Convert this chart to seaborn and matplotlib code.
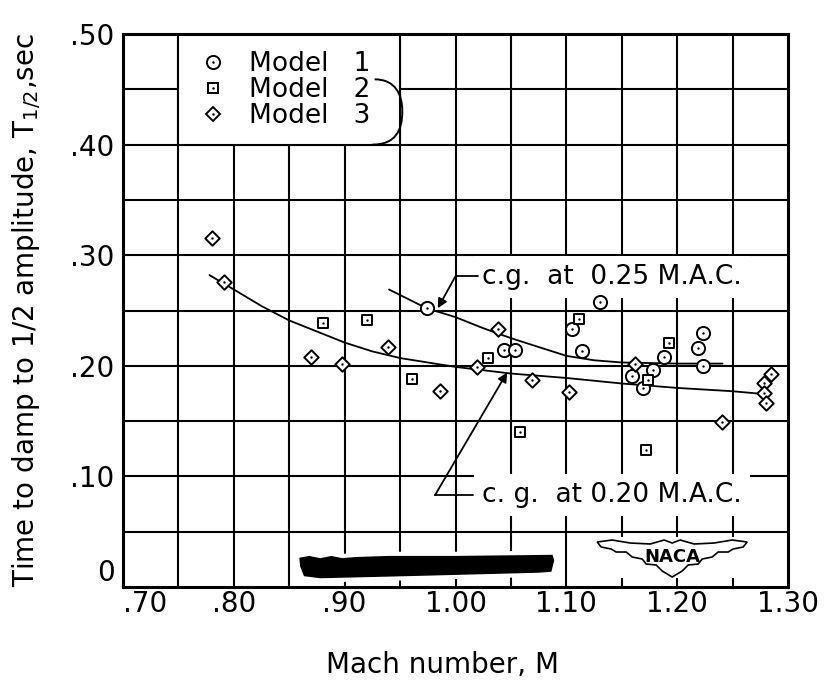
import numpy as np
import pandas as pd
import matplotlib
matplotlib.use("Agg")
import matplotlib.pyplot as plt
import seaborn as sns
from matplotlib.path import Path
from matplotlib.patches import PathPatch, Rectangle, Polygon
from matplotlib.lines import Line2D
from matplotlib.legend_handler import HandlerTuple
from matplotlib.transforms import Affine2D, ScaledTranslation

# ---- measured damping times ----
# Model 1 (circles)
m1_mach = [0.974, 1.044, 1.054, 1.105, 1.114, 1.130, 1.159, 1.169, 1.178, 1.188, 1.219, 1.223, 1.223]
m1_t = [0.252, 0.214, 0.214, 0.233, 0.213, 0.258, 0.191, 0.180, 0.196, 0.208, 0.216, 0.230, 0.200]
# Model 2 (squares)
m2_mach = [0.880, 0.920, 0.961, 1.029, 1.058, 1.111, 1.172, 1.174, 1.193]
m2_t = [0.239, 0.241, 0.188, 0.207, 0.140, 0.242, 0.124, 0.187, 0.221]
# Model 3 (diamonds)
m3_mach = [0.780, 0.791, 0.870, 0.898, 0.939, 0.986, 1.019, 1.038, 1.069, 1.102,
           1.162, 1.240, 1.278, 1.278, 1.280, 1.285]
m3_t = [0.316, 0.276, 0.208, 0.202, 0.217, 0.177, 0.199, 0.233, 0.187, 0.176,
        0.202, 0.149, 0.184, 0.175, 0.166, 0.193]

# ---- faired curves ----
cg25_mach = [0.940, 0.960, 0.974, 1.000, 1.025, 1.050, 1.075, 1.100, 1.125, 1.150, 1.200, 1.241]
cg25_t = [0.269, 0.259, 0.252, 0.244, 0.234, 0.225, 0.217, 0.209, 0.205, 0.203, 0.202, 0.202]
cg20_mach = [0.778, 0.800, 0.825, 0.850, 0.875, 0.900, 0.925, 0.950, 0.975, 1.000,
             1.025, 1.050, 1.100, 1.150, 1.200, 1.250, 1.272]
cg20_t = [0.282, 0.269, 0.254, 0.241, 0.231, 0.221, 0.213, 0.207, 0.203, 0.199,
          0.196, 0.193, 0.189, 0.184, 0.180, 0.177, 0.175]

# ---- axis labelling ----
x_ticks = [0.70, 0.80, 0.90, 1.00, 1.10, 1.20, 1.30]
x_labels = [".70", ".80", ".90", "1.00", "1.10", "1.20", "1.30"]
y_ticks = [0.0, 0.10, 0.20, 0.30, 0.40, 0.50]
y_labels = ["0", ".10", ".20", ".30", ".40", ".50"]
model_labels = ["Model   1", "Model   2", "Model   3"]

sns.set_theme(style="white")
plt.rcParams["font.family"] = ["DejaVu Sans"]
plt.rcParams["mathtext.default"] = "regular"
plt.rcParams["text.color"] = "black"

INK = "black"
FS = 19

fig = plt.figure(figsize=(8.26, 6.90), dpi=100)
fig.patch.set_facecolor("white")
ax = fig.add_axes([123 / 826, 1 - 587 / 690, 665 / 826, 553 / 690])
ax.set_facecolor("white")
ax.set_xlim(0.70, 1.30)
ax.set_ylim(0.0, 0.50)

# grid every 0.05 in both directions
grid_x = np.round(np.arange(0.70, 1.3001, 0.05), 2)
grid_y = np.round(np.arange(0.0, 0.5001, 0.05), 2)
for gx in grid_x[1:-1]:
    ax.axvline(gx, color=INK, lw=1.5, zorder=1)
for gy in grid_y[1:-1]:
    ax.axhline(gy, color=INK, lw=1.5, zorder=1)

for sp in ax.spines.values():
    sp.set_color(INK)
    sp.set_linewidth(2.2)
    sp.set_zorder(6)

ax.set_xticks(x_ticks)
ax.set_xticklabels(x_labels, fontsize=20)
ax.set_yticks(y_ticks)
ax.set_yticklabels(y_labels, fontsize=20)
ax.tick_params(axis="both", length=0, colors=INK, labelcolor=INK)
ax.tick_params(axis="x", pad=2)
ax.tick_params(axis="y", pad=6)
# corner labels sit apart from each other
ax.get_xticklabels()[0].set_horizontalalignment("left")
ax.get_yticklabels()[0].set_verticalalignment("bottom")

# ---- faired curves ----
sns.lineplot(x=cg25_mach, y=cg25_t, ax=ax, color=INK, lw=1.3, sort=False, zorder=3)
sns.lineplot(x=cg20_mach, y=cg20_t, ax=ax, color=INK, lw=1.3, sort=False, zorder=3)

# ---- data points: open symbols with a centre dot ----
series = [
    (m1_mach, m1_t, "o", 90),
    (m2_mach, m2_t, "s", 60),
    (m3_mach, m3_t, "D", 54),
]
for xs, ys, mk, size in series:
    df = pd.DataFrame({"mach": xs, "t": ys})
    sns.scatterplot(data=df, x="mach", y="t", ax=ax, marker=mk, s=size,
                    color="white", edgecolor=INK, linewidth=1.4, zorder=7)
    sns.scatterplot(data=df, x="mach", y="t", ax=ax, marker="o", s=3,
                    color=INK, linewidth=0, zorder=8)

ax.set_xlabel("Mach number, M", fontsize=20, color=INK)
ax.xaxis.set_label_coords(0.48, -0.115)
ax.set_ylabel("Time to damp to 1/2 amplitude, T$_{1/2}$,sec", fontsize=20, color=INK)
ax.yaxis.set_label_coords(-0.12, 0.50)

# ---- legend block ----
ax.add_patch(Rectangle((0.75, 0.40), 0.20, 0.10, facecolor="white",
                       edgecolor=INK, lw=1.5, zorder=2))
handles = []
for mk, size in [("o", 90), ("s", 60), ("D", 54)]:
    outer = Line2D([], [], ls="none", marker=mk, markersize=np.sqrt(size),
                   markerfacecolor="white", markeredgecolor=INK, markeredgewidth=1.4)
    dot = Line2D([], [], ls="none", marker="o", markersize=1.8,
                 markerfacecolor=INK, markeredgewidth=0)
    handles.append((outer, dot))
leg = ax.legend(handles, model_labels, handler_map={tuple: HandlerTuple(ndivide=1)},
                loc="upper left", bbox_to_anchor=(0.085, 1.005), frameon=False,
                fontsize=FS, labelspacing=0.0, handlelength=1.0, handletextpad=0.9,
                borderpad=0.25, labelcolor=INK)
leg.set_zorder(9)

# bracket tying models 2 and 3 together
brace = Path([(0.927, 0.459), (0.946, 0.459), (0.952, 0.445), (0.952, 0.430),
              (0.952, 0.413), (0.946, 0.400), (0.925, 0.400)],
             [Path.MOVETO, Path.CURVE4, Path.CURVE4, Path.CURVE4,
              Path.CURVE4, Path.CURVE4, Path.CURVE4])
ax.add_patch(PathPatch(brace, facecolor="none", edgecolor=INK, lw=1.4, zorder=9))

# ---- curve call-outs ----
box = dict(boxstyle="square,pad=0.3", facecolor="white", edgecolor="none")
ax.text(1.024, 0.280, "c.g.  at  0.25 M.A.C.", fontsize=FS, color=INK,
        ha="left", va="center", bbox=box, zorder=4)
ax.plot([1.000, 1.020], [0.281, 0.281], color=INK, lw=1.3, zorder=5)
ax.annotate("", xy=(0.984, 0.252), xytext=(1.000, 0.281),
            arrowprops=dict(arrowstyle="-|>", color=INK, lw=1.3, mutation_scale=14,
                            shrinkA=0, shrinkB=0), zorder=5)

ax.text(1.024, 0.083, "c. g.  at 0.20 M.A.C.", fontsize=FS, color=INK,
        ha="left", va="center", bbox=box, zorder=4)
ax.plot([0.9815, 1.016], [0.083, 0.083], color=INK, lw=1.3, zorder=5)
ax.annotate("", xy=(1.0466, 0.194), xytext=(0.9815, 0.083),
            arrowprops=dict(arrowstyle="-|>", color=INK, lw=1.3, mutation_scale=14,
                            shrinkA=0, shrinkB=0), zorder=5)

# ---- inked-out strip along the bottom ----
strip = [(0.857, 0.028), (0.868, 0.030), (0.878, 0.028), (0.888, 0.030), (0.898, 0.028),
         (0.910, 0.029), (0.940, 0.030), (1.000, 0.030), (1.089, 0.031), (1.091, 0.024),
         (1.088, 0.012), (1.075, 0.011), (0.960, 0.008), (0.878, 0.006), (0.862, 0.008),
         (0.858, 0.018)]
ax.add_patch(Polygon(strip, closed=True, facecolor=INK, edgecolor="white", lw=3, zorder=3))

# ---- NACA wing emblem (outline in pixel offsets from its centre) ----
wing = np.array([
    (-75, -19), (-60, -21), (-42, -18), (-22, -17), (-8, -21), (0, -18), (8, -21),
    (22, -17), (42, -18), (60, -21), (75, -19),
    (71, -14), (61, -12), (56, -9), (46, -9), (40, -4), (30, -2), (26, 3), (16, 4),
    (10, 10), (0, 16),
    (-10, 10), (-16, 4), (-26, 3), (-30, -2), (-40, -4), (-46, -9), (-56, -9),
    (-61, -12), (-71, -14), (-75, -19)], dtype=float)
emblem_tr = Affine2D().scale(1, -1) + ScaledTranslation(1.1955, 0.0235, ax.transData)
ax.add_patch(Rectangle((1.127, 0.008), 0.137, 0.037, facecolor="white",
                       edgecolor="none", zorder=2))
ax.add_patch(Polygon(wing, closed=True, facecolor="white", edgecolor=INK, lw=1.2,
                     transform=emblem_tr, zorder=3))
ax.text(1.1955, 0.027, "NACA", fontsize=13, fontweight="bold", color=INK,
        ha="center", va="center", zorder=4)

fig.savefig("out.png", dpi=100, facecolor="white")
